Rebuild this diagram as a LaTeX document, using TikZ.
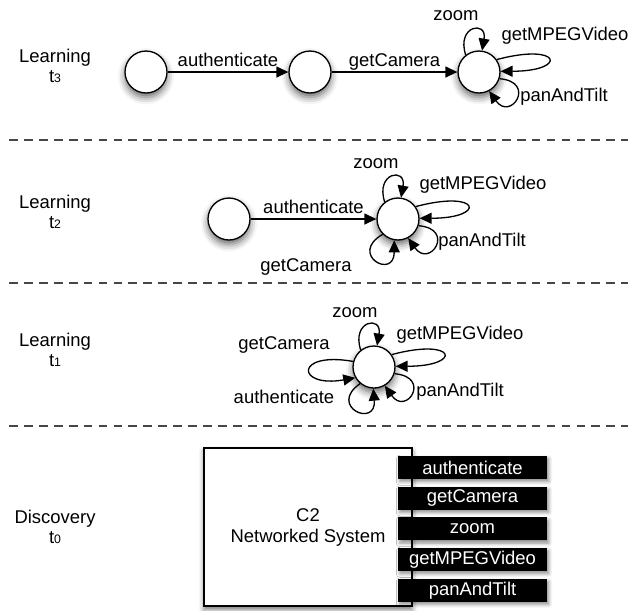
\documentclass[tikz,border=0pt]{standalone}
\usepackage{fontspec}
\setmainfont{Liberation Sans}
\usetikzlibrary{arrows.meta,positioning,shadows.blur}
\definecolor{sepgray}{RGB}{70,70,70}

\begin{document}
\begin{tikzpicture}[x=0.02cm, y=0.02cm,
font=\fontsize{10.5}{12}\selectfont,
loc/.style={draw, circle, fill=white, line width=0.75pt, minimum size=0.84cm, inner sep=0pt,
blur shadow={shadow xshift=0pt, shadow yshift=-2.5pt, shadow blur radius=4pt, shadow opacity=60}},
lbl/.style={inner sep=0pt, text height=0.72em, text depth=0pt},
phase/.style={align=center, font=\fontsize{10.5}{11.5}\selectfont},
sys/.style={draw, fill=white, line width=0.75pt, minimum width=4.16cm, minimum height=3.16cm,
align=center, font=\fontsize{10.5}{12}\selectfont,
blur shadow={shadow xshift=0pt, shadow yshift=-2pt, shadow blur radius=3pt, shadow opacity=55}},
op/.style={fill=black, text=white, minimum width=2.98cm, minimum height=0.46cm, inner sep=0pt,
blur shadow={shadow xshift=1pt, shadow yshift=-1.5pt, shadow blur radius=2pt, shadow opacity=45}},
arrow/.style={-{Triangle[length=0.24cm, width=0.22cm]}, line width=0.75pt},
sep/.style={draw=sepgray, line width=0.85pt, dash pattern=on 5pt off 3.5pt}
]
\useasboundingbox (0,0) rectangle (634,-610);

\draw[sep] (9,-140) -- (628,-140);
\draw[sep] (9,-283) -- (628,-283);
\draw[sep] (9,-426) -- (628,-426);

\node[phase] (ph3) at (55,-66)  {Learning\\t{\fontsize{7}{7}\selectfont 3}};
\node[phase] (ph2) at (55,-212) {Learning\\t{\fontsize{7}{7}\selectfont 2}};
\node[phase] (ph1) at (55,-350) {Learning\\t{\fontsize{7}{7}\selectfont 1}};
\node[phase] (ph0) at (55,-527) {Discovery\\t{\fontsize{7}{7}\selectfont 0}};

% learning t3
\node[loc] (s3a) at (146,-72) {};
\node[loc] (s3b) at (310,-72) {};
\node[loc] (s3c) at (479,-72) {};
\draw[arrow] (s3a) -- node[lbl, above=2.5pt] {authenticate} (s3b);
\draw[arrow] (s3b) -- node[lbl, above=2.5pt] {getCamera} (s3c);
\draw[arrow] (s3c.128) to[out=108, in=80, min distance=0.62cm] (s3c.82);
\draw[arrow] (s3c.35) to[out=15, in=0, min distance=1.35cm] (s3c.2);
\draw[arrow] (s3c.-18) to[out=-5, in=-55, min distance=0.75cm] (s3c.-62);
\node[lbl] (z3) at (456,-14) {zoom};
\node[lbl] (v3) at (565,-34) {getMPEGVideo};
\node[lbl] (p3) at (564,-95) {panAndTilt};

% learning t2
\node[loc] (s2a) at (229,-219) {};
\node[loc] (s2b) at (398,-219) {};
\draw[arrow] (s2a) -- node[lbl, above=2.5pt] {authenticate} (s2b);
\draw[arrow] (s2b.128) to[out=108, in=80, min distance=0.62cm] (s2b.82);
\draw[arrow] (s2b.35) to[out=15, in=0, min distance=1.35cm] (s2b.2);
\draw[arrow] (s2b.-18) to[out=-5, in=-55, min distance=0.75cm] (s2b.-62);
\draw[arrow] (s2b.-135) to[out=-150, in=-90, min distance=0.8cm] (s2b.-100);
\node[lbl] (z2) at (376,-162) {zoom};
\node[lbl] (v2) at (483,-183) {getMPEGVideo};
\node[lbl] (p2) at (482,-240) {panAndTilt};
\node[lbl] (g2) at (306,-265) {getCamera};

% learning t1
\node[loc] (s1) at (374,-367) {};
\draw[arrow] (s1.128) to[out=108, in=80, min distance=0.62cm] (s1.82);
\draw[arrow] (s1.35) to[out=15, in=0, min distance=1.35cm] (s1.2);
\draw[arrow] (s1.-18) to[out=-5, in=-55, min distance=0.75cm] (s1.-60);
\draw[arrow] (s1.165) to[out=170, in=-170, min distance=1.2cm] (s1.-150);
\draw[arrow] (s1.-130) to[out=-145, in=-85, min distance=0.8cm] (s1.-92);
\node[lbl] (z1) at (355,-311) {zoom};
\node[lbl] (v1) at (460,-333) {getMPEGVideo};
\node[lbl] (p1) at (460,-390) {panAndTilt};
\node[lbl] (g1) at (284,-343) {getCamera};
\node[lbl] (a1) at (284,-397) {authenticate};

% discovery t0
\node[sys] (c2) at (308,-527) {C2\\Networked System};
\node[op] (opauth) at (472.5,-467.5) {authenticate};
\node[op, below=0.14cm of opauth] (opcam) {getCamera};
\node[op, below=0.14cm of opcam] (opzoom) {zoom};
\node[op, below=0.14cm of opzoom] (opmpeg) {getMPEGVideo};
\node[op, below=0.14cm of opmpeg] (oppan) {panAndTilt};

\end{tikzpicture}
\end{document}
